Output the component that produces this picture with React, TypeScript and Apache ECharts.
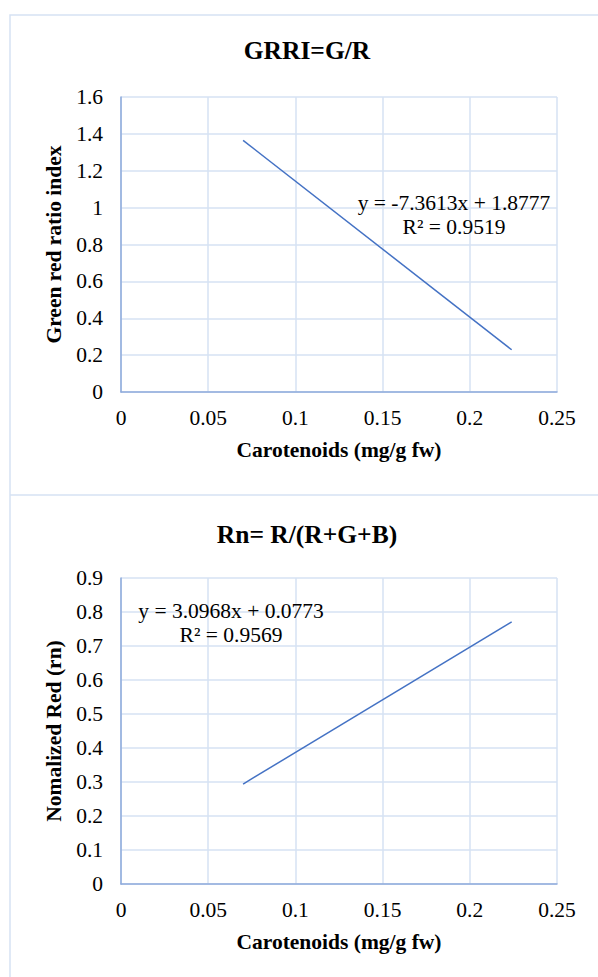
import React, { useEffect, useRef } from "react";
import * as echarts from "echarts";

const xTicks = [0, 0.05, 0.1, 0.15, 0.2, 0.25];
const grriLine: [number, number][] = [
  [0.07, 1.365],
  [0.224, 0.229],
];
const rnLine: [number, number][] = [
  [0.07, 0.294],
  [0.224, 0.771],
];
const titles = ["GRRI=G/R", "Rn= R/(R+G+B)"];
const yNames = ["Green red ratio index", "Nomalized Red (rn)"];
const xName = "Carotenoids (mg/g fw)";
const grriEq = ["y = -7.3613x + 1.8777", "R² = 0.9519"];
const rnEq = ["y = 3.0968x + 0.0773", "R² = 0.9569"];

const FONT = "Liberation Serif";
const FS = 21.5;
const GRID_C = "#d6e2f3";
const AXIS_C = "#8eaadb";
const LINE_C = "#4472c4";

export default function App() {
  const ref = useRef<HTMLDivElement>(null);
  useEffect(() => {
    if (!ref.current) return;
    const chart = echarts.init(ref.current, null, { renderer: "svg" });
    const xAxisBase = (gridIndex: number) => ({
      type: "value" as const,
      gridIndex,
      min: xTicks[0],
      max: xTicks[xTicks.length - 1],
      interval: 0.05,
      name: xName,
      nameLocation: "middle" as const,
      nameGap: 47,
      nameTextStyle: { fontFamily: FONT, fontSize: FS, fontWeight: "bold", color: "#000" },
      axisLine: { show: true, lineStyle: { color: AXIS_C, width: 1.5 } },
      axisTick: { show: false },
      axisLabel: { fontFamily: FONT, fontSize: FS, color: "#000", margin: 15 },
      splitLine: { show: true, lineStyle: { color: GRID_C, width: 1.5 } },
    });
    const yAxisBase = (gridIndex: number, max: number, interval: number, name: string) => ({
      type: "value" as const,
      gridIndex,
      min: 0,
      max,
      interval,
      name,
      nameLocation: "middle" as const,
      nameGap: 54,
      nameRotate: 90,
      nameTextStyle: { fontFamily: FONT, fontSize: FS, fontWeight: "bold", color: "#000" },
      axisLine: { show: true, lineStyle: { color: AXIS_C, width: 1.5 } },
      axisTick: { show: false },
      axisLabel: { fontFamily: FONT, fontSize: FS, color: "#000", margin: 18 },
      splitLine: { show: true, lineStyle: { color: GRID_C, width: 1.5 } },
    });
    const eqText = (lines: string[], x: number, y: number) => ({
      type: "text",
      x,
      y,
      z: 10,
      style: {
        text: lines.join("\n"),
        fontFamily: FONT,
        fontSize: FS,
        lineHeight: 24,
        fill: "#000",
        align: "center",
        verticalAlign: "middle",
      },
    });
    const titleText = (text: string, y: number) => ({
      type: "text",
      x: 307,
      y,
      style: {
        text,
        fontFamily: FONT,
        fontSize: 25.5,
        fontWeight: "bold",
        fill: "#000",
        align: "center",
        verticalAlign: "middle",
      },
    });
    chart.setOption({
      animation: false,
      backgroundColor: "#fff",
      textStyle: { fontFamily: FONT },
      grid: [
        { left: 121, top: 97, width: 436, height: 295 },
        { left: 121, top: 578, width: 436, height: 306 },
      ],
      xAxis: [xAxisBase(0), xAxisBase(1)],
      yAxis: [yAxisBase(0, 1.6, 0.2, yNames[0]), yAxisBase(1, 0.9, 0.1, yNames[1])],
      series: [
        {
          type: "line",
          xAxisIndex: 0,
          yAxisIndex: 0,
          data: grriLine,
          showSymbol: false,
          lineStyle: { color: LINE_C, width: 1.5 },
          z: 5,
        },
        {
          type: "line",
          xAxisIndex: 1,
          yAxisIndex: 1,
          data: rnLine,
          showSymbol: false,
          lineStyle: { color: LINE_C, width: 1.5 },
          z: 5,
        },
      ],
      graphic: [
        {
          type: "rect",
          shape: { x: 10, y: 15, width: 700, height: 1100 },
          style: { fill: "none", stroke: GRID_C, lineWidth: 1.5 },
          silent: true,
        },
        {
          type: "line",
          shape: { x1: 10, y1: 495, x2: 700, y2: 495 },
          style: { stroke: GRID_C, lineWidth: 1.5 },
          silent: true,
        },
        titleText(titles[0], 50),
        titleText(titles[1], 534),
        eqText(grriEq, 454, 215),
        eqText(rnEq, 231, 623),
      ],
    });
    return () => chart.dispose();
  }, []);
  return (
    <div
      ref={ref}
      style={{ position: "absolute", left: 0, top: 0, width: 598, height: 977 }}
    />
  );
}
